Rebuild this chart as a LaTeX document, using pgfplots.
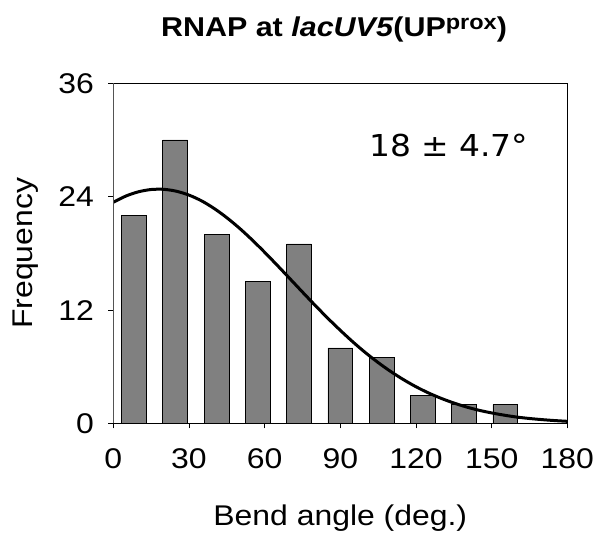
\documentclass[border=0pt]{standalone}
\usepackage{fontspec}
\setmainfont[FakeStretch=1.12]{Liberation Sans}
\newfontfamily\dejavu[FakeStretch=1.09]{DejaVu Sans}
\usepackage{pgfplots}
\pgfplotsset{compat=1.18}
\definecolor{bargray}{HTML}{808080}
\begin{document}
\begin{tikzpicture}
\useasboundingbox (-113.3pt,-111.5pt) rectangle (483.7pt,423.5pt);
\begin{axis}[
  at={(0pt,0pt)}, anchor=south west,
  scale only axis, width=454pt, height=340.2pt,
  xmin=0, xmax=180, ymin=0, ymax=36,
  xtick={0,30,60,90,120,150,180},
  ytick={0,12,24,36},
  tick align=outside, major tick length=5pt,
  xtick pos=bottom, ytick pos=left,
  tick style={black, line width=0.8pt},
  axis line style={black, line width=1pt},
  ticklabel style={font=\fontsize{28.5}{30}\selectfont},
  xticklabel style={yshift=-17pt},
  yticklabel style={xshift=-11pt},
  /pgf/number format/assume math mode=true,
  every axis x label/.style={at={(axis description cs:0.5,-0.2984)}, anchor=base},
  every axis y label/.style={at={(axis description cs:-0.1769,0.5)}, rotate=90, anchor=base},
  label style={font=\fontsize{28.5}{30}\selectfont},
  xlabel={Bend angle (deg.)},
  ylabel={Frequency},
  ybar, bar width=9.82,
]
\addplot[ybar, fill=bargray, draw=black, line width=0.7pt] coordinates {
  (8.18,22) (24.55,30) (40.91,20) (57.27,15) (73.64,19)
  (90.00,8) (106.36,7) (122.73,3) (139.09,2) (155.45,2)
};
\addplot[sharp plot, smooth, black, line width=3pt, mark=none] coordinates {
(0,23.41)(5,24.07)(10,24.52)(15,24.76)(20,24.78)(25,24.58)(30,24.17)(35,23.56)(40,22.75)(45,21.78)(50,20.67)(55,19.44)(60,18.12)(65,16.74)(70,15.33)(75,13.91)(80,12.51)(85,11.15)(90,9.86)(95,8.63)(100,7.49)(105,6.45)(110,5.50)(115,4.65)(120,3.89)(125,3.23)(130,2.66)(135,2.17)(140,1.75)(145,1.40)(150,1.12)(155,0.88)(160,0.68)(165,0.53)(170,0.41)(175,0.31)(180,0.23)
};
\draw[bargray, line width=1.2pt] (rel axis cs:0,0) -- (rel axis cs:0,1);
\node[anchor=base, font=\dejavu\fontsize{30.2}{32}\selectfont] at (axis cs:133,28.3) {18 ± 4.7°};
\end{axis}
\node[anchor=base, font=\bfseries\fontsize{27.2}{29}\selectfont] at (220.7pt,386.5pt)
  {RNAP at \textit{lacUV5}(UP\raisebox{7.8pt}{\fontsize{21}{21}\selectfont prox})};
\end{tikzpicture}
\end{document}
